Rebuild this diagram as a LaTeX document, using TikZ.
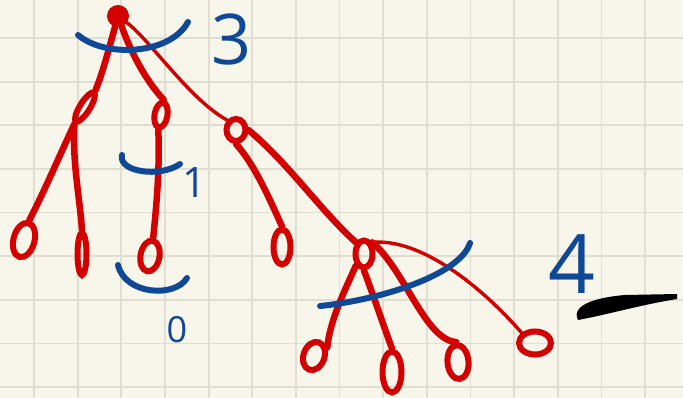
\documentclass[tikz,border=0pt]{standalone}
\usepackage{fontspec}
\setmainfont{Open Sans}
\usetikzlibrary{shapes.geometric}
\definecolor{paper}{RGB}{248,246,234}
\definecolor{gridc}{RGB}{224,221,209}
\definecolor{penred}{RGB}{212,0,0}
\definecolor{penblue}{RGB}{14,72,150}
\begin{document}
\begin{tikzpicture}[x=1pt,y=-1pt,
  loopnode/.style={ellipse, draw=penred, line width=6pt, inner sep=0pt},
  redline/.style={draw=penred, line width=6.5pt, line cap=round},
  thinred/.style={draw=penred, line width=3.4pt, line cap=round},
  blueline/.style={draw=penblue, line width=6pt, line cap=round},
  lab/.style={text=penblue, inner sep=0pt}]
\useasboundingbox (0,0) rectangle (683,398);
\fill[paper] (0,0) rectangle (683,398);
% grid
\foreach \k in {0,...,14} {
  \draw[gridc, line width=1.8pt] ({34+43.65*\k},0) -- ({34+43.65*\k},398);
}
\foreach \k in {0,...,8} {
  \draw[gridc, line width=1.8pt] (0,{38+43.65*\k}) -- (683,{38+43.65*\k});
}
% nodes
\node[circle, fill=penred, minimum size=22pt, inner sep=0pt] (root) at (118,16) {};
\node[loopnode, minimum width=10pt, minimum height=34pt, rotate=-32] (lc) at (85,107) {};
\node[loopnode, minimum width=13pt, minimum height=25pt, rotate=-10] (mc) at (161,115) {};
\node[loopnode, minimum width=19pt, minimum height=22pt] (rc) at (236,130) {};
\node[loopnode, minimum width=21pt, minimum height=35pt, rotate=-15] (l1) at (24,240) {};
\node[loopnode, minimum width=9pt, minimum height=42pt] (l2) at (82,254) {};
\node[loopnode, minimum width=19pt, minimum height=31pt, rotate=-10] (l3) at (150,256) {};
\node[loopnode, minimum width=17pt, minimum height=35pt] (l4) at (282,247) {};
\node[loopnode, minimum width=17pt, minimum height=27pt] (n4) at (364,254) {};
\node[loopnode, minimum width=21pt, minimum height=29pt, rotate=-20] (l5) at (314,356) {};
\node[loopnode, minimum width=19pt, minimum height=41pt] (l6) at (392,372) {};
\node[loopnode, minimum width=21pt, minimum height=34pt, rotate=5] (l7) at (458,362) {};
\node[loopnode, minimum width=32pt, minimum height=23pt] (l8) at (535,343) {};
% connectors
\draw[redline] (root) .. controls (110,45) and (103,72) .. (lc.north);
\draw[redline] (lc.south) .. controls (62,150) and (45,190) .. (l1.north);
\draw[redline] (lc.south) .. controls (72,160) and (80,200) .. (l2.north);
\draw[redline] (root) .. controls (130,50) and (145,80) .. (mc.north);
\draw[redline] (mc.south) .. controls (160,170) and (156,210) .. (l3.north);
\draw[thinred] (root) .. controls (150,40) and (190,100) .. (rc.north west);
\draw[redline] (rc.south) .. controls (255,165) and (270,200) .. (l4.north);
\draw[redline] (rc.east) .. controls (290,165) and (320,210) .. (n4.north west);
\draw[redline] (n4.south west) .. controls (345,290) and (330,320) .. (l5.north east);
\draw[redline] (n4.south) .. controls (375,300) and (385,330) .. (l6.north);
\draw[redline] (n4.north east) .. controls (405,270) and (425,340) .. (l7.north);
\draw[thinred] (n4.north east) .. controls (420,238) and (480,285) .. (l8.north west);
% blue arcs
\draw[blueline] (78,35) .. controls (105,58) and (170,55) .. (188,22);
\draw[blueline] (122,155) .. controls (118,172) and (160,178) .. (180,164);
\draw[blueline] (118,265) .. controls (125,295) and (175,298) .. (187,278);
\draw[blueline] (320,306) .. controls (380,300) and (460,275) .. (470,243);
% labels
\node[lab, font=\fontsize{70}{70}\selectfont] (t3) at (232,40) {3};
\node[lab, font=\fontsize{42}{42}\selectfont] (t1) at (195,183) {1};
\node[lab, font=\fontsize{36}{36}\selectfont] (t0) at (177,330) {0};
\node[lab, font=\fontsize{82}{82}\selectfont] (t4) at (572,264) {4};
% black scribble
\fill[black] (578,320) .. controls (570,304) and (600,297) .. (625,295)
  -- (677,294) -- (677,299) .. controls (640,305) and (610,314) .. (578,320) -- cycle;
\draw[black, line width=4pt, line cap=round] (584,310) .. controls (600,312) and (615,307) .. (630,302);
\end{tikzpicture}
\end{document}
